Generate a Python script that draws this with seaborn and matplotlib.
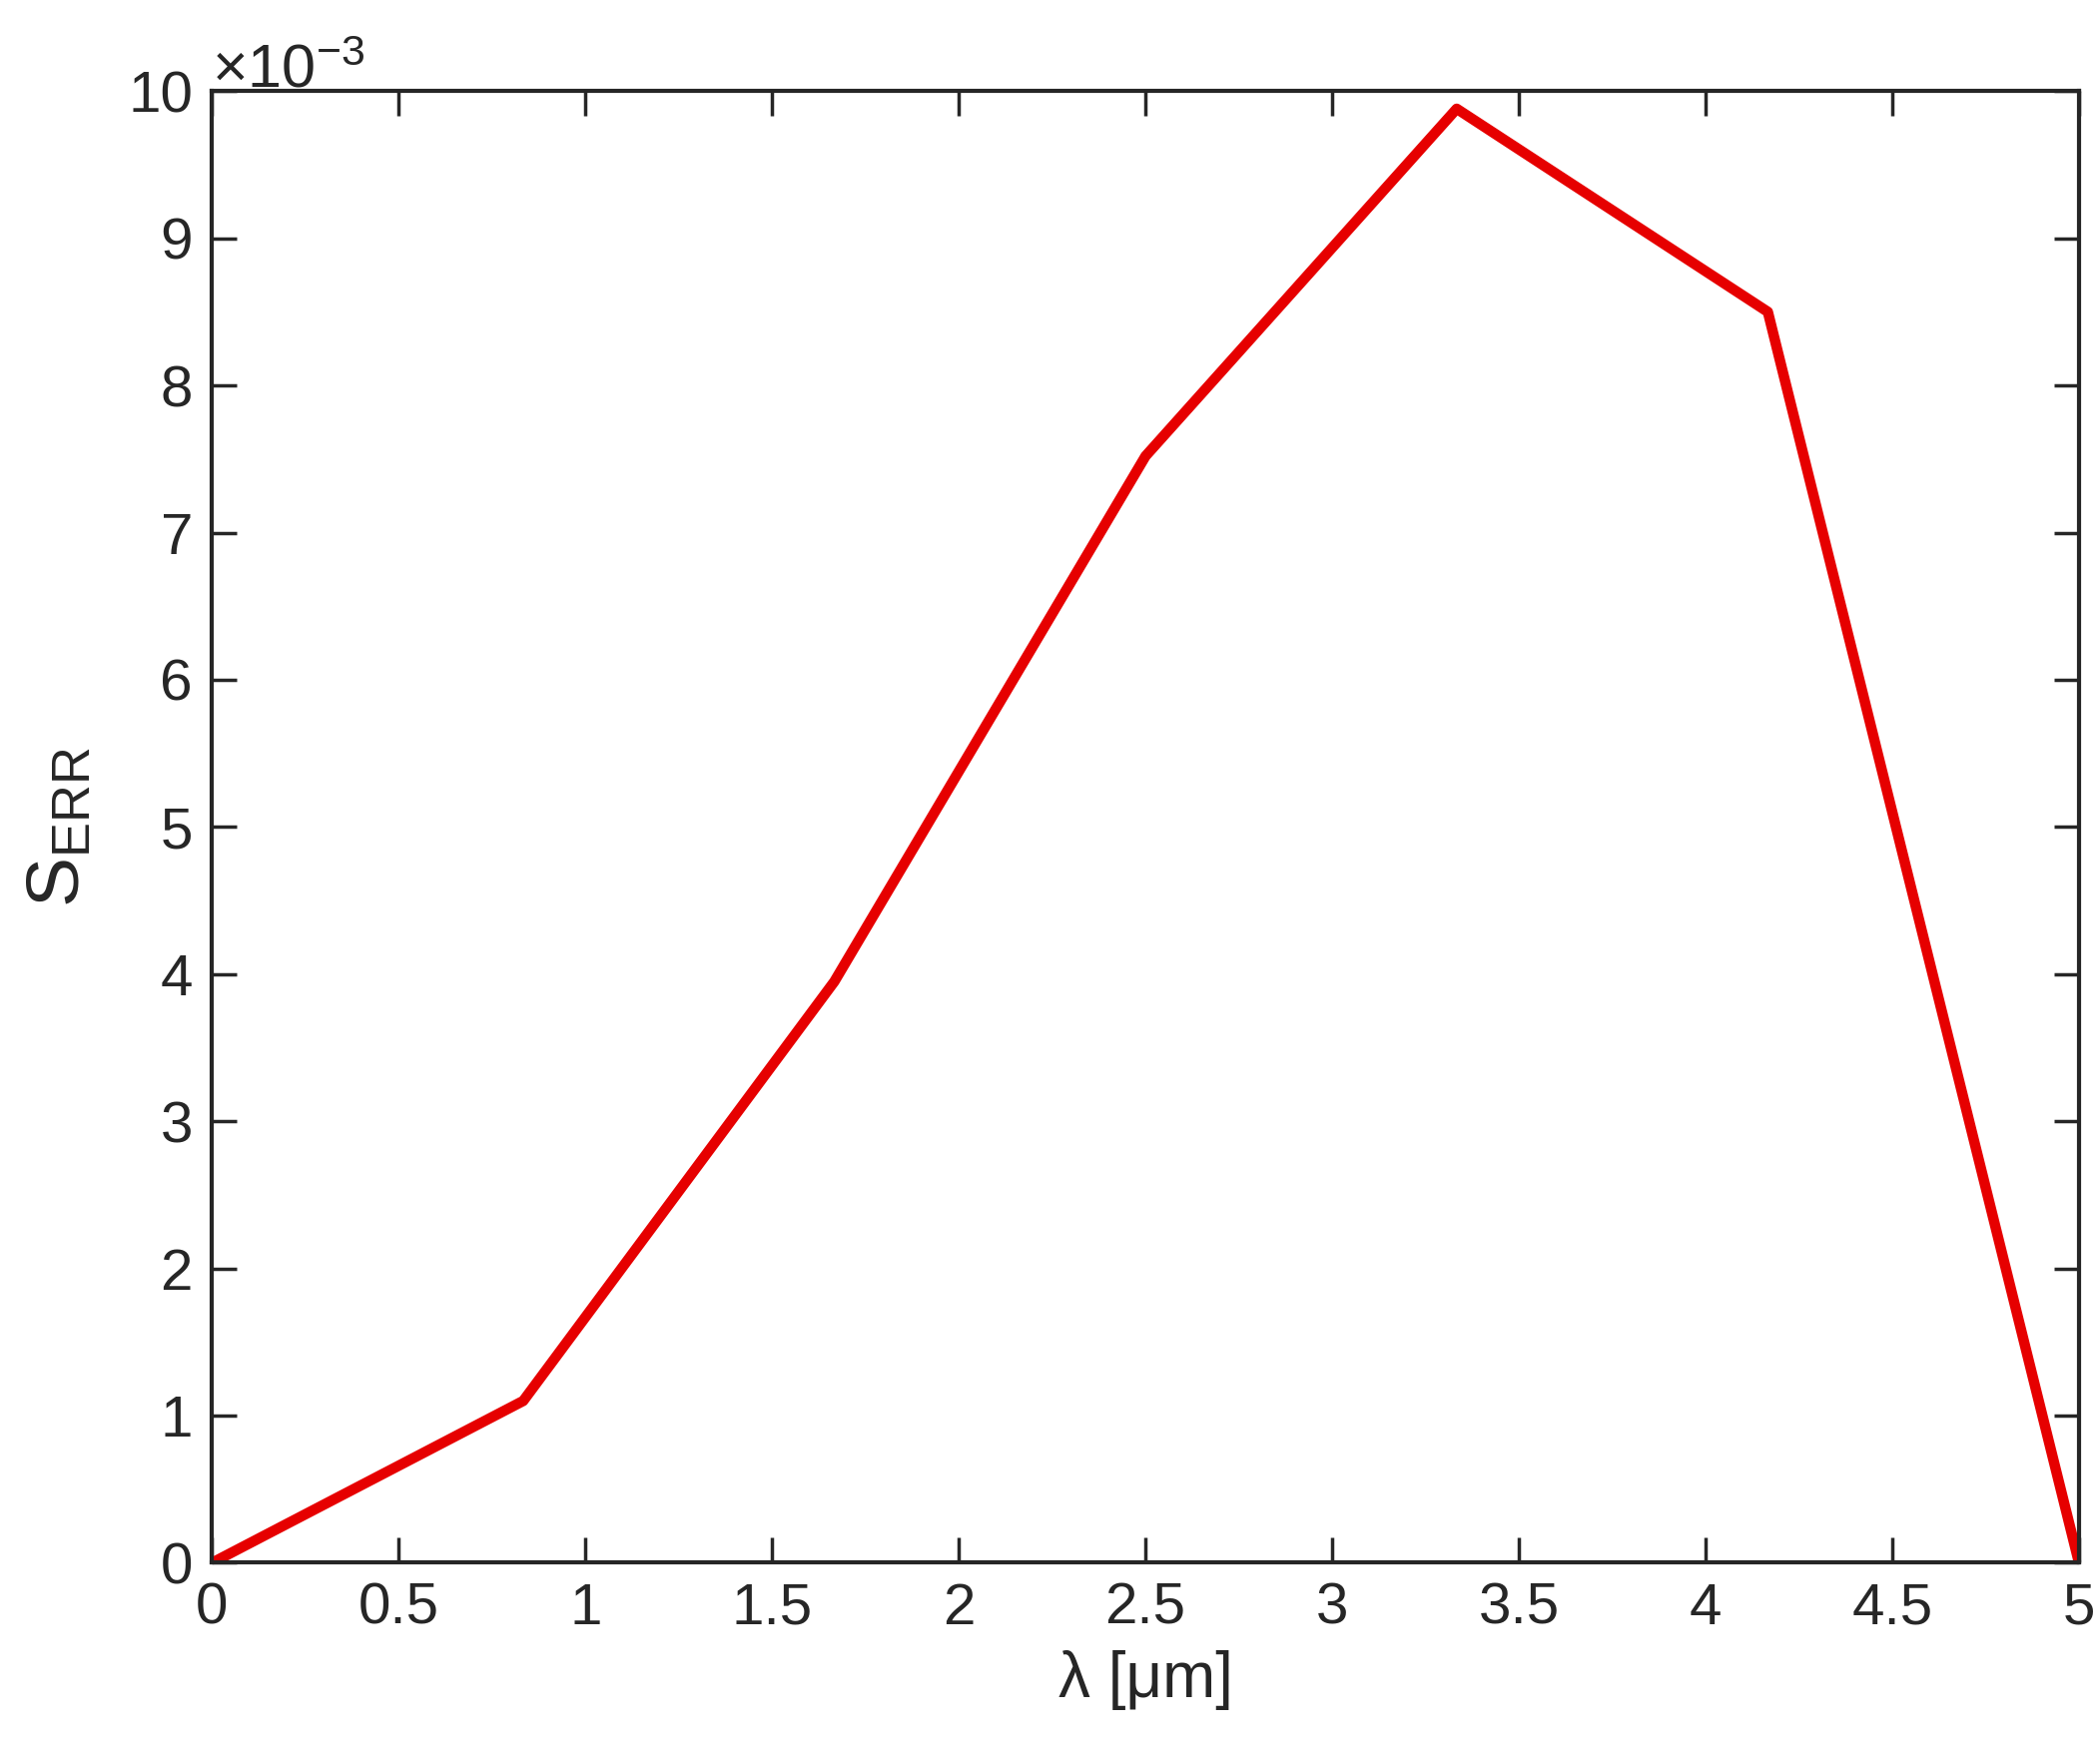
import matplotlib
matplotlib.use("Agg")
import matplotlib.pyplot as plt
import matplotlib.ticker as mticker
import seaborn as sns
import pandas as pd
import numpy as np

# Data
wavelength_um = [0.0, 5/6, 5/3, 2.5, 10/3, 25/6, 5.0]
s_err = [0.0, 1.10e-3, 3.95e-3, 7.52e-3, 9.88e-3, 8.50e-3, 0.0]
x_ticks = [0, 0.5, 1, 1.5, 2, 2.5, 3, 3.5, 4, 4.5, 5]
x_tick_labels = ["0", "0.5", "1", "1.5", "2", "2.5", "3", "3.5", "4", "4.5", "5"]
y_ticks = [i * 1e-3 for i in range(11)]


class FixedOrderFormatter(mticker.ScalarFormatter):
    def __init__(self, order, **kw):
        self._fixed_order = order
        super().__init__(**kw)

    def _set_order_of_magnitude(self):
        self.orderOfMagnitude = self._fixed_order

    def _set_format(self):
        self.format = "%1.0f"


sns.set_style("ticks")
plt.rcParams['font.family'] = ['Liberation Sans', 'DejaVu Sans']
plt.rcParams['mathtext.fontset'] = 'custom'
plt.rcParams['mathtext.rm'] = 'Liberation Sans'
plt.rcParams['mathtext.it'] = 'Liberation Sans:italic'

df = pd.DataFrame({"lam": wavelength_um, "s": s_err})

fig = plt.figure(figsize=(21.03, 17.55), dpi=100)
ax = fig.add_axes([0.101, 0.108, 0.889, 0.840])
sns.lineplot(data=df, x="lam", y="s", ax=ax, color="#e60000", linewidth=7.5,
             estimator=None, sort=False)

ax.set_xlim(0, 5)
ax.set_ylim(0, 0.01)
ax.set_xticks(x_ticks)
ax.set_xticklabels(x_tick_labels)
ax.set_yticks(y_ticks)
fmt = FixedOrderFormatter(-3, useMathText=True, useOffset=False)
ax.yaxis.set_major_formatter(fmt)

axcol = "#262626"
for s in ax.spines.values():
    s.set_visible(True)
    s.set_linewidth(3)
    s.set_color(axcol)
ax.tick_params(axis="both", which="both", direction="in", length=18, width=2.5,
               top=True, right=True, labelsize=42, colors=axcol, pad=14)
ax.yaxis.get_offset_text().set_fontsize(44)
ax.yaxis.get_offset_text().set_color(axcol)

ax.set_xlabel("λ [μm]", fontsize=46, color=axcol, labelpad=10)
ax.set_ylabel(r"S$_{\mathrm{ERR}}$", fontsize=54, color=axcol, labelpad=24)

fig.savefig("out.png", dpi=100, facecolor="white")
